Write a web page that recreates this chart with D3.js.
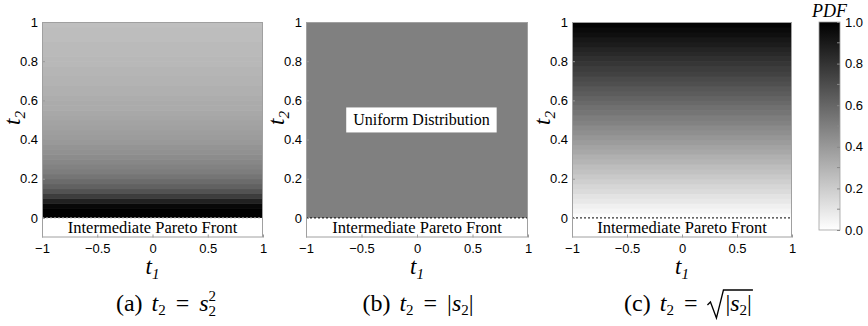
<!DOCTYPE html>
<html>
<head>
<meta charset="utf-8">
<script src="https://cdn.jsdelivr.net/npm/d3@7"></script>
<style>
  body { margin: 0; background: #fff; }
  svg { display: block; }
  .tick text { font-family: "Liberation Sans", Arial, sans-serif; font-size: 13px; fill: #000; }
  .serif { font-family: "Liberation Serif", "Times New Roman", serif; }
</style>
</head>
<body>
<div id="chart"></div>
<script>
// tick labels
const xTicks = [-1, -0.5, 0, 0.5, 1];
const yTicks = [0, 0.2, 0.4, 0.6, 0.8, 1];
const cbTicks = [0, 0.2, 0.4, 0.6, 0.8, 1];
const cbMinor = [0.1, 0.3, 0.5, 0.7, 0.9];

// scaled PDF read per t2 band (bottom -> top), 0 = white, 1 = black
const pdfA = [1, 1, 0.97, 0.87, 0.76, 0.68, 0.62, 0.58, 0.54, 0.51,
  0.49, 0.47, 0.45, 0.43, 0.42, 0.40, 0.39, 0.38, 0.37, 0.36,
  0.35, 0.34, 0.33, 0.33, 0.32, 0.31, 0.31, 0.30, 0.30, 0.29,
  0.29, 0.28, 0.28, 0.27, 0.27, 0.27, 0.26, 0.26, 0.26, 0.25];
const pdfB = [0.5];
const pdfC = [0.01, 0.04, 0.06, 0.09, 0.11, 0.14, 0.16, 0.19, 0.21, 0.24,
  0.26, 0.29, 0.31, 0.34, 0.36, 0.39, 0.41, 0.44, 0.46, 0.49,
  0.51, 0.54, 0.56, 0.59, 0.61, 0.64, 0.66, 0.69, 0.71, 0.74,
  0.76, 0.79, 0.81, 0.84, 0.86, 0.89, 0.91, 0.94, 0.96, 0.99];

const width = 868;
const height = 326;
const plotTop = 22;
const plotBottom = 237.5;

const svg = d3.select('#chart').append('svg')
  .attr('width', width)
  .attr('height', height);

const grey = d3.scaleLinear().domain([0, 1]).range(['#ffffff', '#000000']).clamp(true);
const y = d3.scaleLinear().domain([-0.1, 1]).range([plotBottom, plotTop]);
const fmt = d3.format('~g');

const panels = [
  { key: 'a', x0: 42, x1: 263, values: pdfA, front: '#b0b0b0', capX: 166 },
  { key: 'b', x0: 306, x1: 528, values: pdfB, front: '#000', capX: 418, uniform: true },
  { key: 'c', x0: 572, x1: 792, values: pdfC, front: '#000', capX: 688 },
];

panels.forEach((p) => {
  const x = d3.scaleLinear().domain([-1, 1]).range([p.x0, p.x1]);
  const g = svg.append('g');
  const n = p.values.length;

  // heat map rows
  g.selectAll('rect.row')
    .data(p.values)
    .enter()
    .append('rect')
    .attr('class', 'row')
    .attr('x', x(-1))
    .attr('width', x(1) - x(-1))
    .attr('y', (d, i) => y((i + 1) / n))
    .attr('height', (d, i) => y(i / n) - y((i + 1) / n) + 0.6)
    .attr('fill', (d) => grey(d));

  // white front band below t2 = 0
  g.append('rect')
    .attr('x', x(-1))
    .attr('width', x(1) - x(-1))
    .attr('y', y(0))
    .attr('height', y(-0.1) - y(0))
    .attr('fill', '#fff');

  g.append('line')
    .attr('x1', x(-1)).attr('x2', x(1))
    .attr('y1', y(0)).attr('y2', y(0))
    .attr('stroke', p.front)
    .attr('stroke-width', 1)
    .attr('stroke-dasharray', '2,2');

  g.append('text')
    .attr('class', 'serif')
    .attr('x', x(0))
    .attr('y', y(-0.05) + 5.5)
    .attr('text-anchor', 'middle')
    .style('font-size', '16.5px')
    .text('Intermediate Pareto Front');

  // axes
  const xAxis = g.append('g')
    .attr('transform', `translate(0,${plotBottom})`)
    .call(d3.axisBottom(x).tickValues(xTicks).tickFormat(fmt)
      .tickSizeInner(-3).tickSizeOuter(0).tickPadding(6));
  const yAxis = g.append('g')
    .attr('transform', `translate(${p.x0},0)`)
    .call(d3.axisLeft(y).tickValues(yTicks).tickFormat(fmt)
      .tickSizeInner(-3).tickSizeOuter(0).tickPadding(4));
  [xAxis, yAxis].forEach((a) => {
    a.attr('font-family', 'Liberation Sans').attr('font-size', 13);
    a.select('.domain').remove();
    a.selectAll('.tick line').attr('stroke', '#999');
  });

  g.append('rect')
    .attr('x', x(-1) + 0.5)
    .attr('y', y(1) + 0.5)
    .attr('width', x(1) - x(-1) - 1)
    .attr('height', y(-0.1) - y(1) - 1)
    .attr('fill', 'none')
    .attr('stroke', '#a0a0a0');

  if (p.uniform) {
    const lbl = g.append('text')
      .attr('class', 'serif')
      .attr('x', x(0.04))
      .attr('y', y(0.5) + 5)
      .attr('text-anchor', 'middle')
      .style('font-size', '16px')
      .text('Uniform Distribution');
    const bb = lbl.node().getBBox();
    g.insert('rect', 'text')
      .attr('x', bb.x - 7)
      .attr('y', y(0.5) - 12.5)
      .attr('width', bb.width + 14)
      .attr('height', 25)
      .attr('fill', '#fff');
    lbl.raise();
  }

  // axis labels
  const tx = g.append('text')
    .attr('class', 'serif')
    .attr('x', x(0))
    .attr('y', 274)
    .attr('text-anchor', 'middle')
    .style('font-size', '23px');
  tx.append('tspan').style('font-style', 'italic').text('t');
  tx.append('tspan').style('font-size', '15px').style('font-style', 'italic').attr('dy', 5).text('1');

  const ty = g.append('text')
    .attr('class', 'serif')
    .attr('transform', `translate(${p.x0 - 22},${y(0.5) - 2}) rotate(-90)`)
    .attr('text-anchor', 'middle')
    .style('font-size', '23px');
  ty.append('tspan').style('font-style', 'italic').text('t');
  ty.append('tspan').style('font-size', '15px').style('font-style', 'italic').attr('dy', 5).text('2');

  // caption
  const cap = svg.append('text')
    .attr('class', 'serif')
    .attr('x', p.capX)
    .attr('y', 311)
    .attr('text-anchor', 'middle')
    .style('font-size', '24px');
  cap.append('tspan').text(`(${p.key})`);
  cap.append('tspan').style('font-style', 'italic').attr('dx', 9).text('t');
  cap.append('tspan').style('font-size', '15px').attr('dy', 4).text('2');
  cap.append('tspan').attr('dy', -4).attr('dx', 10).text('=');
  if (p.key === 'a') {
    cap.append('tspan').style('font-style', 'italic').attr('dx', 10).text('s');
    cap.append('tspan').style('font-size', '15px').attr('dy', 5).text('2');
    cap.append('tspan').style('font-size', '15px').attr('dx', -7.5).attr('dy', -15).text('2');
  } else if (p.key === 'b') {
    cap.append('tspan').attr('dx', 10).text('|');
    cap.append('tspan').style('font-style', 'italic').text('s');
    cap.append('tspan').style('font-size', '15px').attr('dy', 4).text('2');
    cap.append('tspan').attr('dy', -4).text('|');
  } else {
    cap.append('tspan').attr('dx', 28).text('|');
    cap.append('tspan').style('font-style', 'italic').text('s');
    cap.append('tspan').style('font-size', '15px').attr('dy', 4).text('2');
    cap.append('tspan').attr('dy', -4).text('|');
    // radical sign drawn over the |s2| part
    const bb = cap.node().getBBox();
    const rx = bb.x + bb.width;
    const bar = cap.selectAll('tspan').nodes()[4];
    const sx = bar.getStartPositionOfChar(0).x;
    svg.append('path')
      .attr('d', `M${sx - 18},305 L${sx - 15},302 L${sx - 9},318 L${sx - 2},290 L${rx + 1},290`)
      .attr('fill', 'none')
      .attr('stroke', '#000')
      .attr('stroke-width', 1.3);
  }
});

// colour bar
const cb = { x0: 819, x1: 840 };
const cy = d3.scaleLinear().domain([0, 1]).range([230, 22]);
const defs = svg.append('defs');
const grad = defs.append('linearGradient')
  .attr('id', 'cbgrad')
  .attr('x1', 0).attr('x2', 0).attr('y1', 1).attr('y2', 0);
grad.selectAll('stop')
  .data(cbTicks)
  .enter()
  .append('stop')
  .attr('offset', (d) => d)
  .attr('stop-color', (d) => grey(d));

svg.append('rect')
  .attr('x', cb.x0)
  .attr('y', cy(1))
  .attr('width', cb.x1 - cb.x0)
  .attr('height', cy(0) - cy(1))
  .attr('fill', 'url(#cbgrad)')
  .attr('stroke', '#a0a0a0')
  .attr('stroke-width', 0.8);

const cbAxis = svg.append('g')
  .attr('transform', `translate(${cb.x1},0)`)
  .call(d3.axisRight(cy).tickValues(cbTicks).tickFormat(d3.format('.1f'))
    .tickSizeInner(-3).tickSizeOuter(0).tickPadding(5));
cbAxis.attr('font-family', 'Liberation Sans').attr('font-size', 13);
cbAxis.select('.domain').remove();
cbAxis.selectAll('.tick line').attr('stroke', '#888');

svg.selectAll('line.minor')
  .data(cbMinor)
  .enter()
  .append('line')
  .attr('class', 'minor')
  .attr('x1', cb.x1 - 3).attr('x2', cb.x1)
  .attr('y1', (d) => cy(d)).attr('y2', (d) => cy(d))
  .attr('stroke', '#888');

svg.append('text')
  .attr('class', 'serif')
  .attr('x', 812)
  .attr('y', 17)
  .style('font-size', '18px')
  .style('font-style', 'italic')
  .text('PDF');
</script>
</body>
</html>
